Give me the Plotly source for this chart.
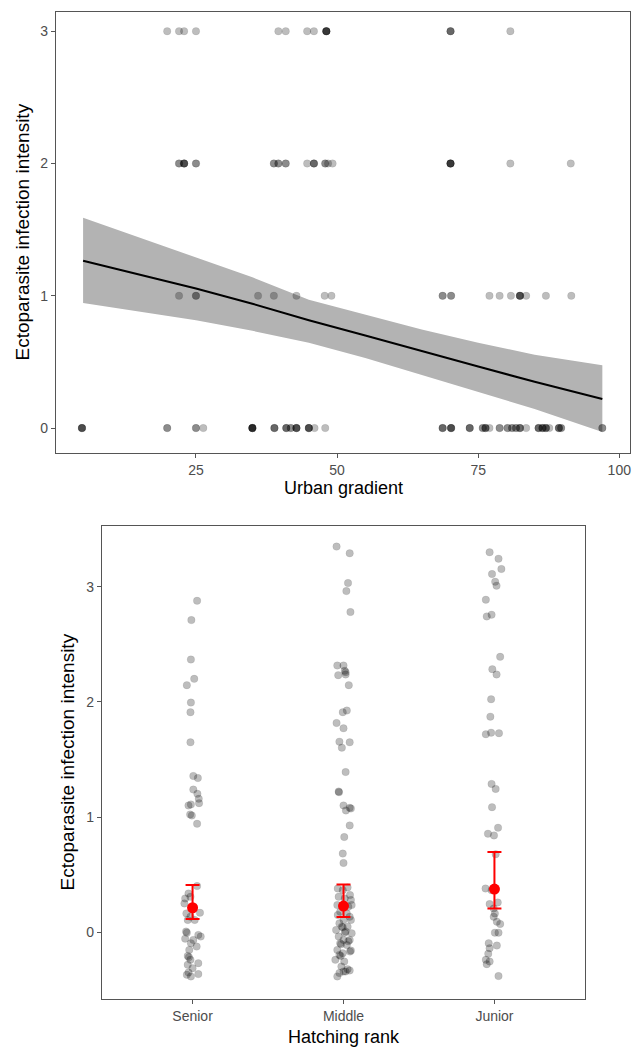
import plotly.graph_objects as go

# ---------------- Top panel data: urban gradient vs infection intensity ----------------
urban_int3 = [19.9, 22.0, 22.9, 25.0, 39.6, 40.9, 44.7, 45.9,
              48.1, 48.1, 48.1, 48.1, 48.1, 70.1, 70.1, 70.1, 80.7]
urban_int2 = [22.0, 22.0, 22.9, 22.9, 22.9, 22.9, 25.0, 25.0, 38.8, 38.8,
              39.6, 39.6, 40.9, 40.9, 44.7, 45.9, 45.9, 45.9, 47.9, 47.9,
              48.4, 49.2, 70.1, 70.1, 70.1, 70.1, 70.1, 80.7, 91.4]
urban_int1 = [22.0, 25.0, 25.0, 36.0, 38.8, 42.8, 47.8, 49.0, 68.7, 68.7,
              70.2, 70.2, 77.0, 78.8, 80.8, 82.4, 82.4, 82.4, 82.4, 83.5,
              87.0, 91.5]
urban_int0 = [4.8, 4.8, 4.8, 4.8, 19.9, 19.9, 25.0, 25.0, 26.3,
              35.0, 35.0, 35.0, 35.0, 35.0, 35.0, 38.9, 38.9, 38.9,
              41.0, 41.0, 41.0, 41.8, 41.8, 42.8, 42.8, 42.8, 42.8,
              45.0, 45.0, 45.0, 45.0, 46.0, 47.9,
              68.7, 68.7, 68.7, 70.2, 70.2, 70.2, 70.2, 73.5, 73.5, 73.5,
              75.8, 75.8, 76.3, 76.3, 76.3, 77.0, 78.8, 78.8, 80.2, 80.2,
              81.0, 81.0, 81.7, 81.7, 82.4, 82.4, 82.4, 83.5,
              85.7, 85.7, 85.7, 86.4, 86.4, 86.4, 87.0, 87.0, 87.0, 87.6,
              89.3, 89.3, 89.3, 89.7, 89.7, 97.0, 97.0]
intensity_levels = [3, 2, 1, 0]

# fitted line and confidence band
fit_x = [5, 15, 25, 35, 45, 55, 65, 75, 85, 97]
fit_y = [1.265, 1.16, 1.055, 0.94, 0.815, 0.70, 0.58, 0.465, 0.35, 0.22]
fit_upper = [1.59, 1.44, 1.29, 1.14, 0.97, 0.855, 0.745, 0.645, 0.555, 0.475]
fit_lower = [0.945, 0.88, 0.815, 0.735, 0.645, 0.53, 0.40, 0.275, 0.145, -0.03]

top_xticks = [25, 50, 75, 100]
top_yticks = [0, 1, 2, 3]

# ---------------- Bottom panel data: hatching rank ----------------
rank_labels = ["Senior", "Middle", "Junior"]
rank_pos = [1, 2, 3]

senior_dx = [0.030, -0.008, -0.011, 0.011, -0.038, -0.011, -0.014, -0.014, 0.005, 0.035,
             0.005, 0.032, 0.041, 0.043, -0.027, -0.011, -0.016, -0.005, 0.030,
             0.030, -0.027, -0.049, -0.014, -0.054, -0.041, 0.049, -0.014, -0.032, 0.014,
             -0.043, -0.038, 0.038, 0.054, -0.049, 0.005, -0.011, 0.027, -0.022, -0.032,
             -0.024, -0.014, 0.038, -0.032, 0.000, -0.027, -0.038, 0.038, -0.011]
senior_y = [2.878, 2.710, 2.368, 2.200, 2.145, 1.994, 1.910, 1.649, 1.357, 1.339,
            1.239, 1.202, 1.159, 1.121, 1.101, 1.110, 1.023, 1.014, 0.942,
            0.401, 0.337, 0.294, 0.308, 0.251, 0.164, 0.170, 0.135, 0.107, 0.107,
            0.006, -0.003, -0.023, -0.037, -0.055, -0.066, -0.095, -0.124, -0.153, -0.205,
            -0.216, -0.239, -0.268, -0.282, -0.311, -0.349, -0.369, -0.363, -0.383]

middle_dx = [-0.046, 0.041, 0.030, 0.019, 0.046, -0.041, 0.000, 0.008, 0.014, -0.035,
             0.014, 0.035, 0.022, -0.005, -0.046, 0.000, -0.027, 0.041, -0.011, 0.014,
             -0.032, -0.030, 0.000, 0.016, 0.041, 0.049, 0.041, 0.005, -0.005, 0.000,
             -0.038, 0.027, -0.005, 0.043, -0.032, 0.008, 0.049, -0.041, 0.032, 0.054,
             -0.022, 0.022, -0.038, 0.041, 0.000, -0.027, 0.049, -0.011, -0.005, 0.027,
             -0.049, 0.014, 0.008, 0.054, -0.032, 0.000, 0.041, 0.032, -0.022, -0.016,
             0.022, -0.041, 0.049, 0.043, -0.005, -0.027, -0.019, -0.054, 0.005, -0.014,
             0.027, 0.014, 0.041, -0.027, 0.000, -0.041]
middle_y = [3.348, 3.290, 3.032, 2.962, 2.780, 2.316, 2.316, 2.270, 2.258, 2.232,
            2.238, 2.145, 1.925, 1.910, 1.817, 1.771, 1.655, 1.649, 1.603, 1.391,
            1.222, 1.216, 1.101, 1.058, 1.081, 1.075, 0.928, 0.827, 0.683, 0.602,
            0.380, 0.389, 0.366, 0.323, 0.308, 0.294, 0.280, 0.236, 0.222, 0.236,
            0.179, 0.164, 0.150, 0.135, 0.107, 0.078, 0.107, 0.049, 0.043, 0.049,
            0.020, 0.006, -0.003, -0.009, -0.037, -0.066, -0.066, -0.078, -0.095, -0.104,
            -0.110, -0.153, -0.159, -0.167, -0.182, -0.196, -0.205, -0.239, -0.254, -0.297,
            -0.320, -0.340, -0.331, -0.354, -0.340, -0.383]

junior_dx = [-0.032, 0.027, 0.046, -0.016, 0.005, 0.014, -0.057, -0.019, -0.051, 0.038,
             -0.014, 0.014, -0.022, -0.027, -0.057, -0.022, 0.030,
             -0.019, 0.008, -0.016, 0.024, -0.043, -0.003, 0.008,
             -0.059, -0.019, 0.022, -0.032, -0.005, 0.003, -0.005, 0.016, 0.038,
             0.003, 0.027, -0.038, 0.016, -0.032, -0.041, -0.057, -0.032, -0.051, 0.027]
junior_y = [3.299, 3.243, 3.154, 3.110, 3.043, 3.009, 2.887, 2.757, 2.742, 2.391,
            2.284, 2.238, 2.023, 1.872, 1.719, 1.733, 1.728,
            1.288, 1.245, 1.086, 0.908, 0.856, 0.841, 0.677,
            0.380, 0.366, 0.259, 0.245, 0.207, 0.164, 0.135, 0.092, 0.072,
            -0.003, -0.003, -0.095, -0.115, -0.138, -0.187, -0.239, -0.254, -0.277, -0.380]

rank_mean = [0.213, 0.228, 0.375]
rank_ci_low = [0.115, 0.133, 0.207]
rank_ci_high = [0.410, 0.415, 0.697]

bottom_yticks = [0, 1, 2, 3]

# ---------------- Figure ----------------
FONT = "Arial, 'Liberation Sans', sans-serif"
PT_COLOR = "rgba(0,0,0,0.26)"
PT_SIZE = 7.5
fig = go.Figure()

# confidence band
fig.add_trace(go.Scatter(x=fit_x, y=fit_lower, mode="lines", line=dict(width=0, color="#b3b3b3"),
                         showlegend=False, hoverinfo="skip", xaxis="x", yaxis="y"))
fig.add_trace(go.Scatter(x=fit_x, y=fit_upper, mode="lines", line=dict(width=0, color="#b3b3b3"),
                         fill="tonexty", fillcolor="#b3b3b3", showlegend=False,
                         hoverinfo="skip", xaxis="x", yaxis="y"))

# points by intensity level
for lvl, xs in zip(intensity_levels, [urban_int3, urban_int2, urban_int1, urban_int0]):
    fig.add_trace(go.Scatter(x=xs, y=[lvl] * len(xs), mode="markers",
                             marker=dict(size=PT_SIZE, color=PT_COLOR,
                                         line=dict(width=0.6, color="rgba(0,0,0,0.12)")),
                             showlegend=False, xaxis="x", yaxis="y"))

# fitted line
fig.add_trace(go.Scatter(x=fit_x, y=fit_y, mode="lines", line=dict(color="black", width=2),
                         showlegend=False, xaxis="x", yaxis="y"))

# bottom panel jittered points
for pos, dxs, ys in zip(rank_pos, [senior_dx, middle_dx, junior_dx], [senior_y, middle_y, junior_y]):
    fig.add_trace(go.Scatter(x=[pos + d for d in dxs], y=ys, mode="markers",
                             marker=dict(size=PT_SIZE, color=PT_COLOR,
                                         line=dict(width=0.6, color="rgba(0,0,0,0.12)")),
                             showlegend=False, xaxis="x2", yaxis="y2"))

# means with CI
fig.add_trace(go.Scatter(
    x=rank_pos, y=rank_mean, mode="markers",
    marker=dict(size=11, color="red"),
    error_y=dict(type="data", symmetric=False,
                 array=[h - m for h, m in zip(rank_ci_high, rank_mean)],
                 arrayminus=[m - l for m, l in zip(rank_mean, rank_ci_low)],
                 color="red", thickness=2, width=7),
    showlegend=False, xaxis="x2", yaxis="y2"))

axis_common = dict(showgrid=False, zeroline=False, showline=True, mirror=True,
                   linecolor="#555555", linewidth=1.3, ticks="outside", ticklen=4,
                   tickcolor="#555555", tickwidth=1, automargin=False,
                   tickfont=dict(family=FONT, size=14, color="#4d4d4d"))

ytitle_font = dict(family=FONT, size=19, color="black")
xtitle_font = dict(family=FONT, size=18, color="black")

fig.update_layout(
    width=640, height=1048,
    margin=dict(l=0, r=0, t=0, b=0),
    paper_bgcolor="white", plot_bgcolor="white",
    xaxis=dict(domain=[56 / 640, 630 / 640], range=[0.2, 101.9], tickvals=top_xticks,
               anchor="y", **axis_common),
    yaxis=dict(domain=[1 - 452.7 / 1048, 1 - 12.3 / 1048], range=[-0.186, 3.143],
               tickvals=top_yticks, anchor="x", **axis_common),
    xaxis2=dict(domain=[102 / 640, 585 / 640], range=[0.4, 3.6], tickvals=rank_pos,
                ticktext=rank_labels, anchor="y2", **axis_common),
    yaxis2=dict(domain=[1 - 999 / 1048, 1 - 526 / 1048], range=[-0.579, 3.527],
                tickvals=bottom_yticks, anchor="x2", **axis_common),
    annotations=[
        dict(text="Ectoparasite infection intensity", x=22 / 640, y=1 - 232.5 / 1048,
             xref="paper", yref="paper", showarrow=False, textangle=-90,
             xanchor="center", yanchor="middle", font=ytitle_font),
        dict(text="Urban gradient", x=343 / 640, y=1 - 488 / 1048,
             xref="paper", yref="paper", showarrow=False,
             xanchor="center", yanchor="middle", font=xtitle_font),
        dict(text="Ectoparasite infection intensity", x=67 / 640, y=1 - 762.5 / 1048,
             xref="paper", yref="paper", showarrow=False, textangle=-90,
             xanchor="center", yanchor="middle", font=ytitle_font),
        dict(text="Hatching rank", x=343.5 / 640, y=1 - 1036.7 / 1048,
             xref="paper", yref="paper", showarrow=False,
             xanchor="center", yanchor="middle", font=xtitle_font),
    ],
)

fig.write_html("out.html", config={"displayModeBar": False},
               post_script="document.body.style.margin='0px';")
